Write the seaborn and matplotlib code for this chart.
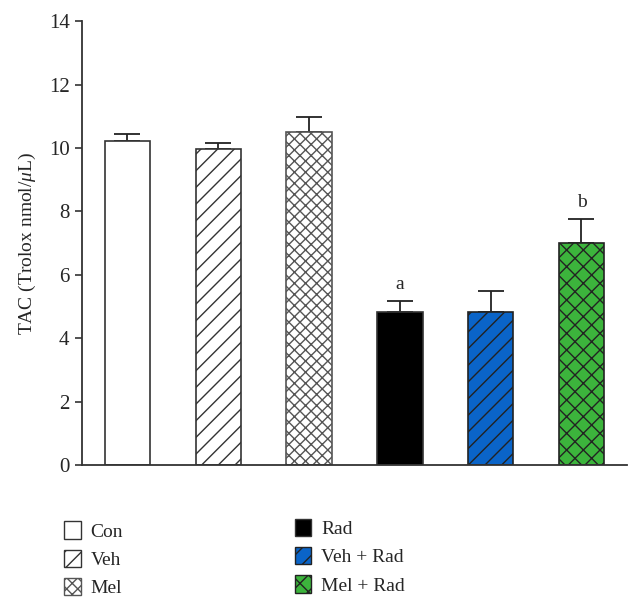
import pandas as pd
import matplotlib
matplotlib.use("Agg")
import matplotlib.pyplot as plt
from matplotlib.patches import Patch
import numpy as np
import seaborn as sns

sns.set_style("white")
plt.rcParams['font.family'] = ['Liberation Serif', 'DejaVu Serif']
plt.rcParams['mathtext.fontset'] = 'custom'
plt.rcParams['mathtext.rm'] = 'Liberation Serif'
plt.rcParams['mathtext.it'] = 'Liberation Serif:italic'

# data
groups = ["Con", "Veh", "Mel", "Rad", "Veh + Rad", "Mel + Rad"]
tac_mean = [10.22, 9.97, 10.52, 4.83, 4.83, 6.99]
tac_sem = [0.21, 0.20, 0.47, 0.34, 0.67, 0.77]
letters = ["", "", "", "a", "", "b"]

colors = ["white", "white", "white", "black", "#0a64c8", "#3cb43c"]
hatches = ["", "//", "xxx", "", "//", "xx"]
edges = ["#333333", "#333333", "#555555", "#333333", "#222222", "#222222"]

df = pd.DataFrame({"group": groups, "tac": tac_mean})

fig = plt.figure(figsize=(6.41, 6.07), dpi=100)
ax = fig.add_axes([0.128, 0.234, 0.85, 0.731])

sns.barplot(data=df, x="group", y="tac", order=groups, errorbar=None,
            width=0.5, ax=ax, color="white")
for bar, c, h, e in zip(ax.patches, colors, hatches, edges):
    bar.set_facecolor(c)
    bar.set_hatch(h)
    bar.set_edgecolor(e)
    bar.set_linewidth(1.2)

x = np.arange(len(groups))
ax.errorbar(x, tac_mean, yerr=[np.zeros(len(groups)), tac_sem], fmt="none",
            ecolor="#222222", elinewidth=1.3, capsize=9.5, capthick=1.3, zorder=0)

for i, t in enumerate(letters):
    if t:
        ax.text(i, tac_mean[i] + tac_sem[i] + 0.25, t, ha="center", va="bottom", fontsize=14)

ax.set_xlim(-0.5, 5.5)
ax.set_ylim(0, 14)
ax.set_yticks(range(0, 15, 2))
ax.set_xticks([])
ax.set_xlabel("")
ax.set_ylabel(r"TAC (Trolox nmol/$\mu$L)", fontsize=14, labelpad=8)
ax.tick_params(axis="y", direction="out", length=5, width=1.2, labelsize=15, left=True,
               pad=4, color="#333333")
for s in ["top", "right"]:
    ax.spines[s].set_visible(False)
for s in ["left", "bottom"]:
    ax.spines[s].set_color("#333333")
    ax.spines[s].set_linewidth(1.3)

handles = [Patch(facecolor=c, edgecolor=e, hatch=h, linewidth=1)
           for c, h, e in zip(colors, hatches, edges)]
leg_kw = dict(loc="upper left", frameon=False, fontsize=14, handlelength=0.85,
              handleheight=1.0, handletextpad=0.5, labelspacing=0.45, borderaxespad=0,
              borderpad=0)
leg1 = fig.legend(handles[:3], groups[:3], bbox_to_anchor=(0.1, 0.141), **leg_kw)
leg2 = fig.legend(handles[3:], groups[3:], bbox_to_anchor=(0.46, 0.145), **leg_kw)

plt.savefig("out.png", dpi=100)
